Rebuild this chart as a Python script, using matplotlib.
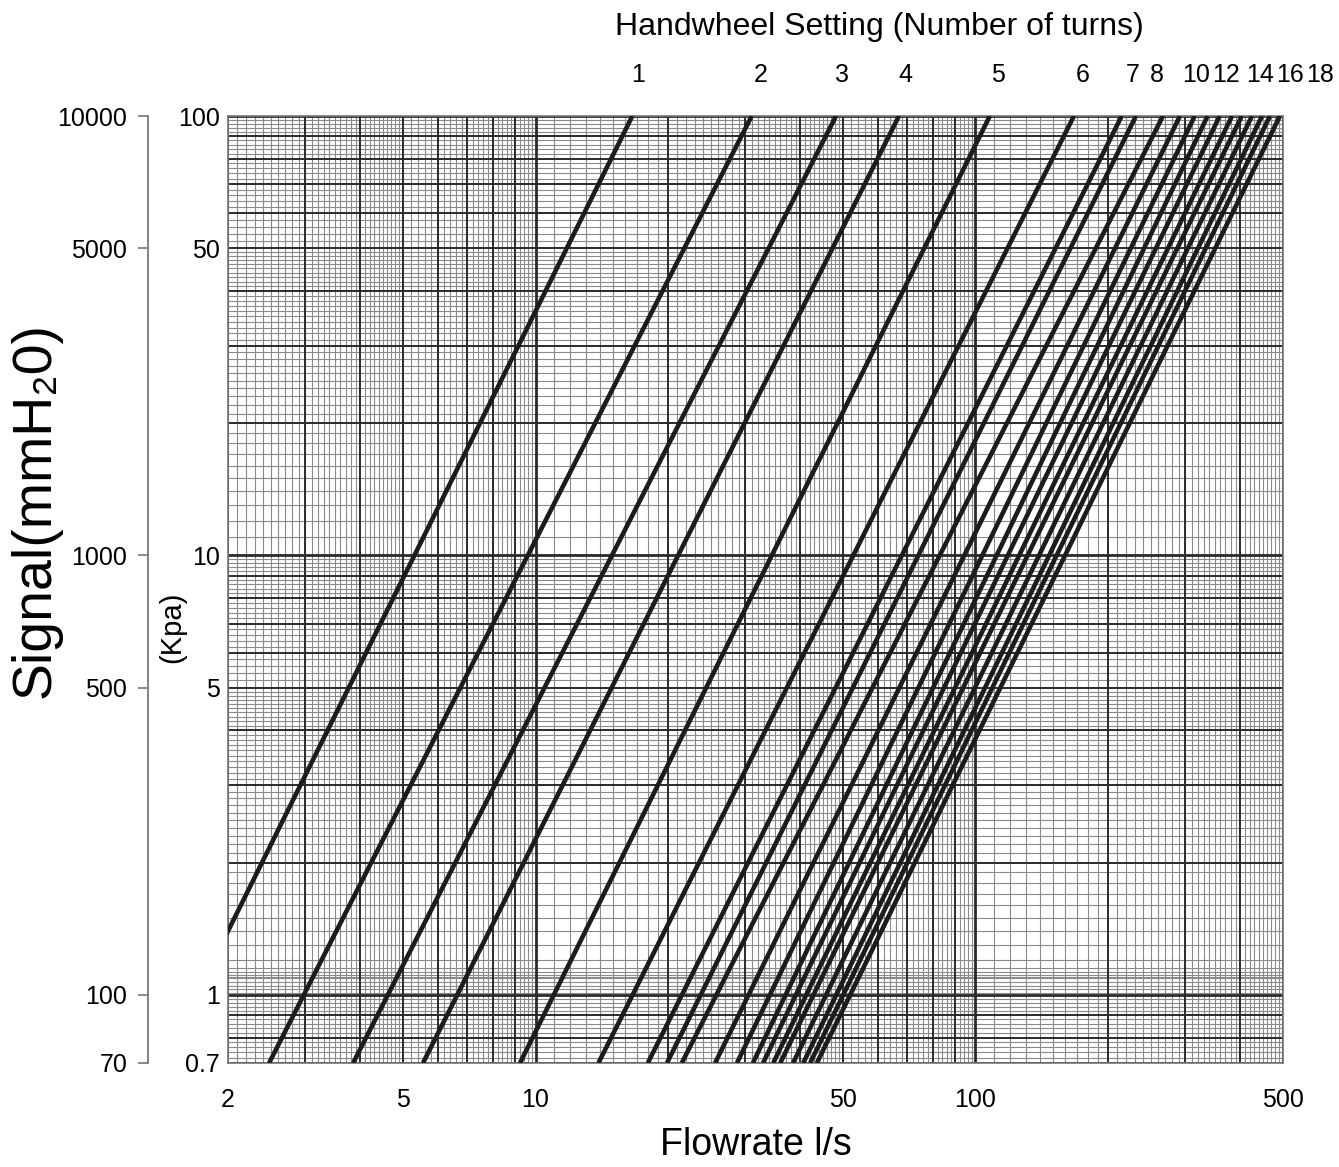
import numpy as np
import matplotlib.pyplot as plt
from matplotlib.transforms import blended_transform_factory

plt.rcParams['font.family'] = ['Liberation Sans', 'DejaVu Sans']

# flow (l/s) where each handwheel curve meets 100 kPa and 0.7 kPa
flow_at_100kpa = [16.6, 31.0, 48.2, 67.0, 107.8, 167.4, 215, 231.6, 266.8, 291.6,
                  315, 337, 359, 383, 403, 425, 448, 467, 492]
flow_at_07kpa = [1.42, 2.48, 3.85, 5.55, 9.22, 13.9, 18.0, 19.9, 21.5, 25.6,
                 28.7, 31.2, 32.9, 34.7, 36.0, 38.5, 40.6, 42.1, 43.6]
dp_ends = [0.7, 100]

# handwheel turn labels along the top
turn_labels = ['1', '2', '3', '4', '5', '6', '7', '8', '10', '12', '14', '16', '18']
turn_label_flow = [17.1, 32.5, 49.8, 69.4, 112.5, 175, 228, 258, 317, 371, 443, 518, 606]

x_ticks = [2, 5, 10, 50, 100, 500]
kpa_ticks = [0.7, 1, 5, 10, 50, 100]
mm_ticks = [70, 100, 500, 1000, 5000, 10000]

W, H = 1339, 1167
fig = plt.figure(figsize=(W / 100, H / 100), dpi=100)
left, right, top, bottom = 228, 1283, 116, 1063
ax = fig.add_axes([left / W, 1 - bottom / H, (right - left) / W, (bottom - top) / H])
ax.set_xscale('log')
ax.set_yscale('log')
ax.set_xlim(2, 500)
ax.set_ylim(0.7, 100)


def paper_lines(lo, hi, dense_bands=()):
    """Lines of log graph paper: (major, minor) values between lo and hi."""
    major, minor = [], []
    for dec in range(int(np.floor(np.log10(lo))), int(np.ceil(np.log10(hi))) + 1):
        base = 10.0 ** dec
        for n in range(1, 10):
            major.append(n * base)
            step = 0.1 if n < 5 else 0.2
            for f in np.arange(n + step, n + 1 - 1e-9, step):
                minor.append(f * base)
    for (a, b, step) in dense_bands:
        for f in np.arange(a, b, step):
            minor.append(f)
    major = [v for v in major if lo <= v <= hi]
    minor = [v for v in minor if lo <= v <= hi]
    return major, minor


vmaj, vmin = paper_lines(2, 500)
hmaj, hmin = paper_lines(0.7, 100, [(1.01, 1.16, 0.02)])

for v in vmin:
    ax.axvline(v, color='#8a8a8a', lw=0.8, zorder=1)
for v in hmin:
    ax.axhline(v, color='#8a8a8a', lw=0.8, zorder=1)
for v in vmaj:
    w = 2.0 if np.isclose(np.log10(v) % 1, 0) else 1.4
    ax.axvline(v, color='#2a2a2a', lw=w, zorder=2)
for v in hmaj:
    w = 2.0 if np.isclose(np.log10(v) % 1, 0) else 1.4
    ax.axhline(v, color='#2a2a2a', lw=w, zorder=2)

# pressure drop curves, one per handwheel setting
for q_lo, q_hi in zip(flow_at_07kpa, flow_at_100kpa):
    ax.plot([q_lo, q_hi], dp_ends, color='#1c1c1c', lw=3.3, zorder=3,
            solid_capstyle='butt')

for s in ax.spines.values():
    s.set_color('#777777')
    s.set_linewidth(1.2)

ax.set_xticks(x_ticks)
ax.set_xticklabels([str(t) for t in x_ticks])
ax.set_yticks(kpa_ticks)
ax.set_yticklabels(['0.7', '1', '5', '10', '50', '100'])
ax.minorticks_off()
ax.tick_params(axis='x', length=0, pad=18, labelsize=18)
ax.tick_params(axis='y', length=0, pad=6, labelsize=18)
ax.set_xlabel('Flowrate l/s', fontsize=27, labelpad=11)

# top labels for the handwheel settings
trans = blended_transform_factory(ax.transData, ax.transAxes)
for lab, q in zip(turn_labels, turn_label_flow):
    ax.text(q, 1.0 + 41 / (bottom - top), lab, transform=trans, ha='center',
            va='center', fontsize=18, clip_on=False)
fig.text(879 / W, 1 - 27 / H, 'Handwheel Setting (Number of turns)',
         ha='center', va='center', fontsize=23)

# outer signal scale in mmH2O
ax_mm = fig.add_axes([148 / W, 1 - bottom / H, 0.0001, (bottom - top) / H])
ax_mm.set_yscale('log')
ax_mm.set_ylim(70, 10000)
ax_mm.set_yticks(mm_ticks)
ax_mm.set_yticklabels([str(t) for t in mm_ticks])
ax_mm.minorticks_off()
ax_mm.set_xticks([])
for side in ['top', 'right', 'bottom']:
    ax_mm.spines[side].set_visible(False)
ax_mm.spines['left'].set_color('#777777')
ax_mm.spines['left'].set_linewidth(1.3)
ax_mm.tick_params(axis='y', length=7, width=1.2, color='#777777', pad=8,
                  labelsize=18)

fig.text(36 / W, 1 - 510 / H, 'Signal(mmH\u20820)', rotation=90,
         ha='center', va='center', fontsize=40)
fig.text(172 / W, 1 - 627 / H, '(Kpa)', rotation=90, ha='center', va='center',
         fontsize=21)

fig.savefig('out.png', dpi=100)
